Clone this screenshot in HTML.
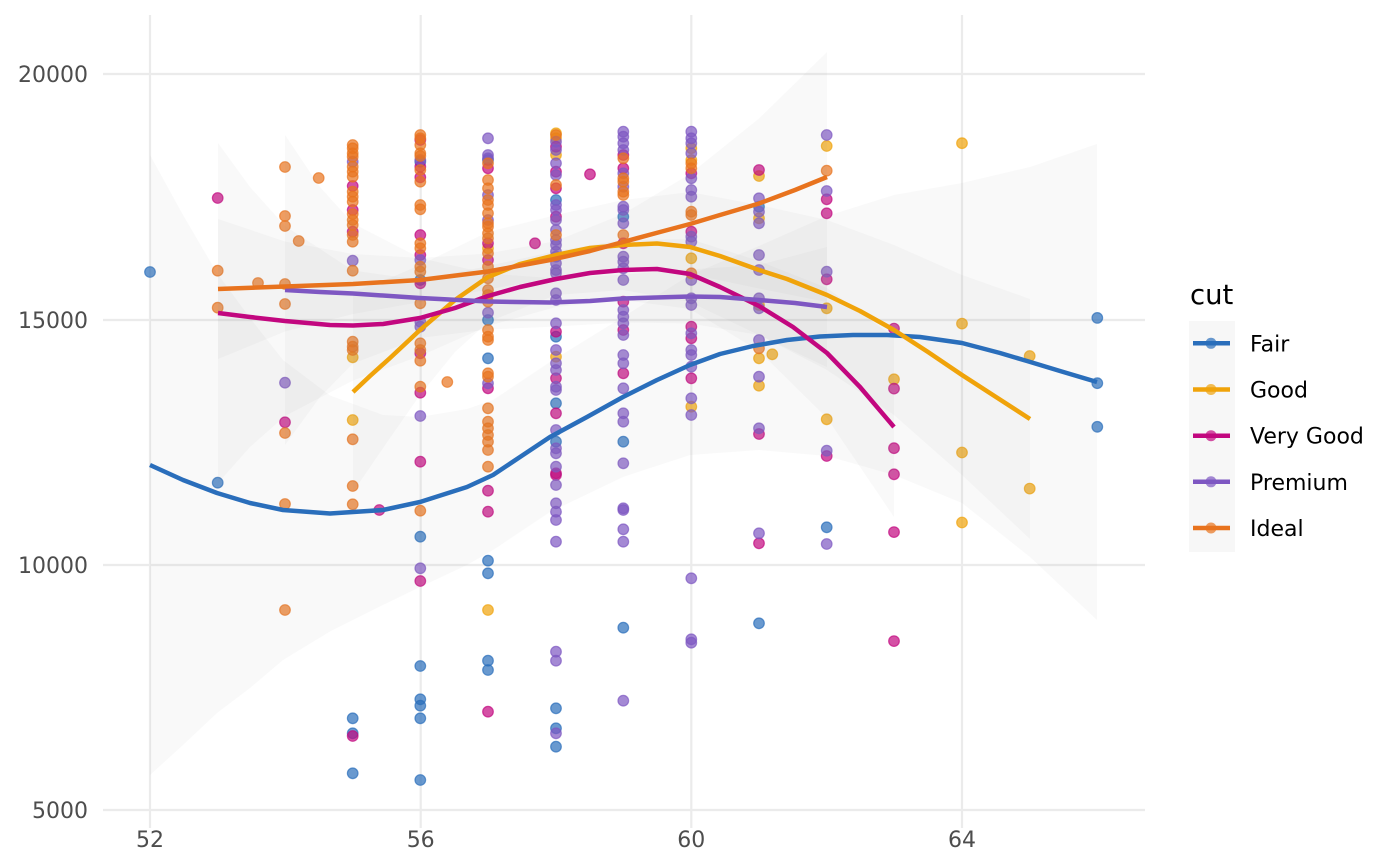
<!DOCTYPE html>
<html><head><meta charset="utf-8"><style>html,body{margin:0;padding:0;background:#fff;}svg{display:block;}text{font-family:"DejaVu Sans","Liberation Sans",sans-serif;}</style></head><body>
<svg width="1400" height="866" viewBox="0 0 1400 866" xmlns="http://www.w3.org/2000/svg">
<rect width="1400" height="866" fill="#fff"/>
<g stroke="#ebebeb" stroke-width="2.2">
<line x1="103" y1="74" x2="1145" y2="74"/><line x1="103" y1="320" x2="1145" y2="320"/><line x1="103" y1="565" x2="1145" y2="565"/><line x1="103" y1="810" x2="1145" y2="810"/>
<line x1="150" y1="15" x2="150" y2="828"/><line x1="420.7" y1="15" x2="420.7" y2="828"/><line x1="691.3" y1="15" x2="691.3" y2="828"/><line x1="962" y1="15" x2="962" y2="828"/>
</g>
<g font-size="22" fill="#4d4d4d">
<text x="88" y="82" text-anchor="end">20000</text><text x="88" y="328" text-anchor="end">15000</text><text x="88" y="573" text-anchor="end">10000</text><text x="88" y="818" text-anchor="end">5000</text>
<text x="150" y="847" text-anchor="middle">52</text><text x="420.7" y="847" text-anchor="middle">56</text><text x="691.3" y="847" text-anchor="middle">60</text><text x="962" y="847" text-anchor="middle">64</text>
</g>
<g stroke-width="1.2" stroke-opacity="0.7" fill-opacity="0.7">
<g fill="#2a6ebb" stroke="#2a6ebb">
<circle cx="150" cy="272" r="5.3"/><circle cx="217.7" cy="482.7" r="5.3"/>
<circle cx="352.7" cy="718.3" r="5.3"/><circle cx="352.7" cy="733.3" r="5.3"/><circle cx="352.7" cy="773.3" r="5.3"/>
<circle cx="420.3" cy="161.7" r="5.3"/><circle cx="420.3" cy="280" r="5.3"/><circle cx="420.3" cy="536.7" r="5.3"/><circle cx="420.3" cy="666" r="5.3"/><circle cx="420.3" cy="699.3" r="5.3"/><circle cx="420.3" cy="705.7" r="5.3"/><circle cx="420.3" cy="718.3" r="5.3"/><circle cx="420.3" cy="780" r="5.3"/>
<circle cx="488" cy="160" r="5.3"/><circle cx="488" cy="320" r="5.3"/><circle cx="488" cy="358.3" r="5.3"/><circle cx="488" cy="560.7" r="5.3"/><circle cx="488" cy="573.3" r="5.3"/><circle cx="488" cy="660.7" r="5.3"/><circle cx="488" cy="670" r="5.3"/>
<circle cx="556" cy="200" r="5.3"/><circle cx="556" cy="336.7" r="5.3"/><circle cx="556" cy="403.3" r="5.3"/><circle cx="556" cy="441.7" r="5.3"/><circle cx="556" cy="708.3" r="5.3"/><circle cx="556" cy="728.3" r="5.3"/><circle cx="556" cy="746.7" r="5.3"/>
<circle cx="623.3" cy="216.7" r="5.3"/><circle cx="623.3" cy="441.7" r="5.3"/><circle cx="623.3" cy="627.7" r="5.3"/>
<circle cx="759" cy="206.7" r="5.3"/><circle cx="759" cy="623.3" r="5.3"/>
<circle cx="826.7" cy="527.3" r="5.3"/>
<circle cx="1097.3" cy="317.9" r="5.3"/><circle cx="1097.3" cy="383.2" r="5.3"/><circle cx="1097.3" cy="426.8" r="5.3"/>
</g>
<g fill="#f0a30a" stroke="#f0a30a">
<circle cx="352.7" cy="357.3" r="5.3"/><circle cx="352.7" cy="420" r="5.3"/>
<circle cx="488" cy="248.3" r="5.3"/><circle cx="488" cy="610" r="5.3"/>
<circle cx="556" cy="133.3" r="5.3"/><circle cx="556" cy="138.3" r="5.3"/><circle cx="556" cy="155" r="5.3"/><circle cx="556" cy="356.7" r="5.3"/>
<circle cx="691.3" cy="148.3" r="5.3"/><circle cx="691.3" cy="160" r="5.3"/><circle cx="691.3" cy="258.3" r="5.3"/><circle cx="691.3" cy="406.7" r="5.3"/>
<circle cx="759" cy="176" r="5.3"/><circle cx="759" cy="218.3" r="5.3"/><circle cx="759" cy="305" r="5.3"/><circle cx="759" cy="358.3" r="5.3"/><circle cx="759" cy="385.7" r="5.3"/>
<circle cx="772.3" cy="354.3" r="5.3"/>
<circle cx="826.7" cy="146" r="5.3"/><circle cx="826.7" cy="308.3" r="5.3"/><circle cx="826.7" cy="419.3" r="5.3"/>
<circle cx="894" cy="379.3" r="5.3"/>
<circle cx="962" cy="143.2" r="5.3"/><circle cx="962" cy="323.6" r="5.3"/><circle cx="962" cy="452.5" r="5.3"/><circle cx="962" cy="522.5" r="5.3"/>
<circle cx="1029.7" cy="356" r="5.3"/><circle cx="1029.7" cy="488.6" r="5.3"/>
</g>
<g fill="#c2077f" stroke="#c2077f">
<circle cx="217.7" cy="198" r="5.3"/><circle cx="285" cy="422.3" r="5.3"/>
<circle cx="352.7" cy="186" r="5.3"/><circle cx="352.7" cy="210" r="5.3"/><circle cx="352.7" cy="231.7" r="5.3"/><circle cx="352.7" cy="736" r="5.3"/>
<circle cx="379.3" cy="510" r="5.3"/>
<circle cx="420.3" cy="140" r="5.3"/><circle cx="420.3" cy="166.7" r="5.3"/><circle cx="420.3" cy="177.3" r="5.3"/><circle cx="420.3" cy="235" r="5.3"/><circle cx="420.3" cy="255" r="5.3"/><circle cx="420.3" cy="283.3" r="5.3"/><circle cx="420.3" cy="353.3" r="5.3"/><circle cx="420.3" cy="392.7" r="5.3"/><circle cx="420.3" cy="461.7" r="5.3"/><circle cx="420.3" cy="581" r="5.3"/>
<circle cx="488" cy="168.3" r="5.3"/><circle cx="488" cy="243.3" r="5.3"/><circle cx="488" cy="260" r="5.3"/><circle cx="488" cy="388.3" r="5.3"/><circle cx="488" cy="490.7" r="5.3"/><circle cx="488" cy="511.7" r="5.3"/><circle cx="488" cy="711.7" r="5.3"/>
<circle cx="535" cy="243.3" r="5.3"/>
<circle cx="556" cy="146.7" r="5.3"/><circle cx="556" cy="171.7" r="5.3"/><circle cx="556" cy="188.3" r="5.3"/><circle cx="556" cy="216.7" r="5.3"/><circle cx="556" cy="331.7" r="5.3"/><circle cx="556" cy="378.3" r="5.3"/><circle cx="556" cy="413.3" r="5.3"/><circle cx="556" cy="473.3" r="5.3"/><circle cx="556" cy="475" r="5.3"/>
<circle cx="590" cy="174.3" r="5.3"/>
<circle cx="623.3" cy="155" r="5.3"/><circle cx="623.3" cy="168.3" r="5.3"/><circle cx="623.3" cy="243.3" r="5.3"/><circle cx="623.3" cy="301.7" r="5.3"/><circle cx="623.3" cy="330" r="5.3"/><circle cx="623.3" cy="373.3" r="5.3"/>
<circle cx="691.3" cy="173.3" r="5.3"/><circle cx="691.3" cy="231.7" r="5.3"/><circle cx="691.3" cy="326.7" r="5.3"/><circle cx="691.3" cy="338.3" r="5.3"/><circle cx="691.3" cy="378.3" r="5.3"/>
<circle cx="759" cy="170" r="5.3"/><circle cx="759" cy="434" r="5.3"/><circle cx="759" cy="543.3" r="5.3"/>
<circle cx="826.7" cy="199.3" r="5.3"/><circle cx="826.7" cy="213.3" r="5.3"/><circle cx="826.7" cy="279.3" r="5.3"/><circle cx="826.7" cy="456" r="5.3"/>
<circle cx="894" cy="328.6" r="5.3"/><circle cx="894" cy="388.6" r="5.3"/><circle cx="894" cy="448.2" r="5.3"/><circle cx="894" cy="474.3" r="5.3"/><circle cx="894" cy="532.1" r="5.3"/><circle cx="894" cy="641.1" r="5.3"/>
</g>
<g fill="#7e57c2" stroke="#7e57c2">
<circle cx="285" cy="382.7" r="5.3"/>
<circle cx="352.7" cy="161.7" r="5.3"/><circle cx="352.7" cy="260.7" r="5.3"/>
<circle cx="420.3" cy="160" r="5.3"/><circle cx="420.3" cy="260" r="5.3"/><circle cx="420.3" cy="321.7" r="5.3"/><circle cx="420.3" cy="326.7" r="5.3"/><circle cx="420.3" cy="416" r="5.3"/><circle cx="420.3" cy="568.3" r="5.3"/>
<circle cx="488" cy="138.3" r="5.3"/><circle cx="488" cy="155" r="5.3"/><circle cx="488" cy="158.3" r="5.3"/><circle cx="488" cy="195" r="5.3"/><circle cx="488" cy="220" r="5.3"/><circle cx="488" cy="312.7" r="5.3"/><circle cx="488" cy="383.3" r="5.3"/>
<circle cx="556" cy="141.7" r="5.3"/><circle cx="556" cy="150" r="5.3"/><circle cx="556" cy="163.3" r="5.3"/><circle cx="556" cy="175" r="5.3"/><circle cx="556" cy="205" r="5.3"/><circle cx="556" cy="210" r="5.3"/><circle cx="556" cy="220" r="5.3"/><circle cx="556" cy="230" r="5.3"/><circle cx="556" cy="240" r="5.3"/><circle cx="556" cy="245" r="5.3"/><circle cx="556" cy="251.7" r="5.3"/><circle cx="556" cy="256.7" r="5.3"/><circle cx="556" cy="263.3" r="5.3"/><circle cx="556" cy="270" r="5.3"/><circle cx="556" cy="273.3" r="5.3"/><circle cx="556" cy="293.3" r="5.3"/><circle cx="556" cy="300" r="5.3"/><circle cx="556" cy="323.3" r="5.3"/><circle cx="556" cy="350" r="5.3"/><circle cx="556" cy="363.3" r="5.3"/><circle cx="556" cy="370" r="5.3"/><circle cx="556" cy="386.7" r="5.3"/><circle cx="556" cy="390" r="5.3"/><circle cx="556" cy="430" r="5.3"/><circle cx="556" cy="448.3" r="5.3"/><circle cx="556" cy="453.3" r="5.3"/><circle cx="556" cy="466.7" r="5.3"/><circle cx="556" cy="485" r="5.3"/><circle cx="556" cy="503.3" r="5.3"/><circle cx="556" cy="511.7" r="5.3"/><circle cx="556" cy="520" r="5.3"/><circle cx="556" cy="541.7" r="5.3"/><circle cx="556" cy="651.7" r="5.3"/><circle cx="556" cy="660.7" r="5.3"/><circle cx="556" cy="733.3" r="5.3"/>
<circle cx="623.3" cy="131.7" r="5.3"/><circle cx="623.3" cy="136.7" r="5.3"/><circle cx="623.3" cy="143.3" r="5.3"/><circle cx="623.3" cy="150" r="5.3"/><circle cx="623.3" cy="173.3" r="5.3"/><circle cx="623.3" cy="186.7" r="5.3"/><circle cx="623.3" cy="206.7" r="5.3"/><circle cx="623.3" cy="210" r="5.3"/><circle cx="623.3" cy="223.3" r="5.3"/><circle cx="623.3" cy="256.7" r="5.3"/><circle cx="623.3" cy="261.7" r="5.3"/><circle cx="623.3" cy="268.3" r="5.3"/><circle cx="623.3" cy="280" r="5.3"/><circle cx="623.3" cy="310" r="5.3"/><circle cx="623.3" cy="316.7" r="5.3"/><circle cx="623.3" cy="323.3" r="5.3"/><circle cx="623.3" cy="335" r="5.3"/><circle cx="623.3" cy="355" r="5.3"/><circle cx="623.3" cy="363.3" r="5.3"/><circle cx="623.3" cy="388.3" r="5.3"/><circle cx="623.3" cy="413.3" r="5.3"/><circle cx="623.3" cy="421.7" r="5.3"/><circle cx="623.3" cy="463.3" r="5.3"/><circle cx="623.3" cy="508.3" r="5.3"/><circle cx="623.3" cy="510" r="5.3"/><circle cx="623.3" cy="529.3" r="5.3"/><circle cx="623.3" cy="541.7" r="5.3"/><circle cx="623.3" cy="700.7" r="5.3"/>
<circle cx="691.3" cy="131.7" r="5.3"/><circle cx="691.3" cy="138.3" r="5.3"/><circle cx="691.3" cy="143.3" r="5.3"/><circle cx="691.3" cy="153.3" r="5.3"/><circle cx="691.3" cy="178.3" r="5.3"/><circle cx="691.3" cy="190" r="5.3"/><circle cx="691.3" cy="196.7" r="5.3"/><circle cx="691.3" cy="236.7" r="5.3"/><circle cx="691.3" cy="241.7" r="5.3"/><circle cx="691.3" cy="280" r="5.3"/><circle cx="691.3" cy="298.3" r="5.3"/><circle cx="691.3" cy="305" r="5.3"/><circle cx="691.3" cy="333.3" r="5.3"/><circle cx="691.3" cy="350" r="5.3"/><circle cx="691.3" cy="355" r="5.3"/><circle cx="691.3" cy="366.7" r="5.3"/><circle cx="691.3" cy="398.3" r="5.3"/><circle cx="691.3" cy="415" r="5.3"/><circle cx="691.3" cy="578.3" r="5.3"/><circle cx="691.3" cy="639.3" r="5.3"/><circle cx="691.3" cy="642.7" r="5.3"/>
<circle cx="759" cy="198.3" r="5.3"/><circle cx="759" cy="211.7" r="5.3"/><circle cx="759" cy="223.3" r="5.3"/><circle cx="759" cy="255" r="5.3"/><circle cx="759" cy="270" r="5.3"/><circle cx="759" cy="298.3" r="5.3"/><circle cx="759" cy="308.3" r="5.3"/><circle cx="759" cy="340" r="5.3"/><circle cx="759" cy="376.7" r="5.3"/><circle cx="759" cy="428.3" r="5.3"/><circle cx="759" cy="533.3" r="5.3"/>
<circle cx="826.7" cy="135" r="5.3"/><circle cx="826.7" cy="191" r="5.3"/><circle cx="826.7" cy="271.7" r="5.3"/><circle cx="826.7" cy="450.7" r="5.3"/><circle cx="826.7" cy="544" r="5.3"/>
</g>
<g fill="#e8731e" stroke="#e8731e">
<circle cx="217.7" cy="270.7" r="5.3"/><circle cx="217.7" cy="307.7" r="5.3"/><circle cx="258" cy="283" r="5.3"/>
<circle cx="285" cy="167" r="5.3"/><circle cx="285" cy="216" r="5.3"/><circle cx="285" cy="226" r="5.3"/><circle cx="285" cy="284" r="5.3"/><circle cx="285" cy="304" r="5.3"/><circle cx="285" cy="433" r="5.3"/><circle cx="285" cy="504" r="5.3"/><circle cx="285" cy="610" r="5.3"/>
<circle cx="298.7" cy="241" r="5.3"/><circle cx="318.7" cy="178" r="5.3"/>
<circle cx="352.7" cy="145" r="5.3"/><circle cx="352.7" cy="148.3" r="5.3"/><circle cx="352.7" cy="153.3" r="5.3"/><circle cx="352.7" cy="156.7" r="5.3"/><circle cx="352.7" cy="166.7" r="5.3"/><circle cx="352.7" cy="171.7" r="5.3"/><circle cx="352.7" cy="176.7" r="5.3"/><circle cx="352.7" cy="191.7" r="5.3"/><circle cx="352.7" cy="196.7" r="5.3"/><circle cx="352.7" cy="201.7" r="5.3"/><circle cx="352.7" cy="214" r="5.3"/><circle cx="352.7" cy="220" r="5.3"/><circle cx="352.7" cy="225" r="5.3"/><circle cx="352.7" cy="235" r="5.3"/><circle cx="352.7" cy="241.7" r="5.3"/><circle cx="352.7" cy="270.7" r="5.3"/><circle cx="352.7" cy="341.7" r="5.3"/><circle cx="352.7" cy="346.7" r="5.3"/><circle cx="352.7" cy="350" r="5.3"/><circle cx="352.7" cy="439.3" r="5.3"/><circle cx="352.7" cy="486" r="5.3"/><circle cx="352.7" cy="504.3" r="5.3"/>
<circle cx="420.3" cy="135" r="5.3"/><circle cx="420.3" cy="138.3" r="5.3"/><circle cx="420.3" cy="145" r="5.3"/><circle cx="420.3" cy="153.3" r="5.3"/><circle cx="420.3" cy="156" r="5.3"/><circle cx="420.3" cy="170" r="5.3"/><circle cx="420.3" cy="181.7" r="5.3"/><circle cx="420.3" cy="205" r="5.3"/><circle cx="420.3" cy="209.3" r="5.3"/><circle cx="420.3" cy="243.3" r="5.3"/><circle cx="420.3" cy="248.3" r="5.3"/><circle cx="420.3" cy="266.7" r="5.3"/><circle cx="420.3" cy="271.7" r="5.3"/><circle cx="420.3" cy="303.3" r="5.3"/><circle cx="420.3" cy="343.3" r="5.3"/><circle cx="420.3" cy="350" r="5.3"/><circle cx="420.3" cy="360.7" r="5.3"/><circle cx="420.3" cy="386.7" r="5.3"/><circle cx="420.3" cy="510.7" r="5.3"/>
<circle cx="447.3" cy="382" r="5.3"/>
<circle cx="488" cy="163.3" r="5.3"/><circle cx="488" cy="180" r="5.3"/><circle cx="488" cy="188.3" r="5.3"/><circle cx="488" cy="200" r="5.3"/><circle cx="488" cy="205" r="5.3"/><circle cx="488" cy="213.3" r="5.3"/><circle cx="488" cy="223.3" r="5.3"/><circle cx="488" cy="226.7" r="5.3"/><circle cx="488" cy="233.3" r="5.3"/><circle cx="488" cy="238.3" r="5.3"/><circle cx="488" cy="253.3" r="5.3"/><circle cx="488" cy="266.7" r="5.3"/><circle cx="488" cy="278.3" r="5.3"/><circle cx="488" cy="290" r="5.3"/><circle cx="488" cy="295" r="5.3"/><circle cx="488" cy="301.7" r="5.3"/><circle cx="488" cy="330" r="5.3"/><circle cx="488" cy="336.7" r="5.3"/><circle cx="488" cy="340" r="5.3"/><circle cx="488" cy="373.3" r="5.3"/><circle cx="488" cy="376.7" r="5.3"/><circle cx="488" cy="408.3" r="5.3"/><circle cx="488" cy="421.7" r="5.3"/><circle cx="488" cy="428.3" r="5.3"/><circle cx="488" cy="435" r="5.3"/><circle cx="488" cy="441.7" r="5.3"/><circle cx="488" cy="450" r="5.3"/><circle cx="488" cy="466.7" r="5.3"/>
<circle cx="556" cy="135" r="5.3"/><circle cx="556" cy="185" r="5.3"/><circle cx="556" cy="235" r="5.3"/>
<circle cx="623.3" cy="158.3" r="5.3"/><circle cx="623.3" cy="178.3" r="5.3"/><circle cx="623.3" cy="181.7" r="5.3"/><circle cx="623.3" cy="191.7" r="5.3"/><circle cx="623.3" cy="195" r="5.3"/><circle cx="623.3" cy="235" r="5.3"/>
<circle cx="691.3" cy="163.3" r="5.3"/><circle cx="691.3" cy="168.3" r="5.3"/><circle cx="691.3" cy="211.7" r="5.3"/><circle cx="691.3" cy="215" r="5.3"/><circle cx="691.3" cy="273.3" r="5.3"/>
<circle cx="759" cy="348.3" r="5.3"/><circle cx="826.7" cy="170.7" r="5.3"/>
</g>
</g>
<g fill="#999" fill-opacity="0.055">
<polygon points="150,155 183,215 217,273 250,318 283,360 330,395.5 383,415 420,417 467,409 493,400 550,362 623,317 690,275 759,246 827,216 894,195 962,183 1030,167 1097,144 1097,620 1030,557 962,503 894,475 827,456 759,450 690,455 623,477 550,512 493,550 467,565 420,587 383,605 330,631.5 283,660 250,688 217,713 183,745 150,775"/>
<polygon points="353,292 390,278 420,265 455,248 488,232 556,215 623,200 690,192 759,205 827,220 894,245 962,275 1030,299 1030,539 962,475 894,415 827,370 759,335 690,302 623,290 556,295 488,322 455,352 420,395 390,438 353,492"/>
<polygon points="218,143 250,187 285,226 353,270.5 420,280 488,266 556,251 623,240 690,239 759,261 827,288 894,337 894,517 827,418 759,351 690,309 623,300 556,307 488,326 420,356 353,380.5 285,416 250,447 218,483"/>
<polygon points="285,135 320,187 353,223.5 420,258 488,273.5 556,278.5 623,274.5 690,269.5 759,265 827,247 827,367 759,335 690,323.5 623,322.5 556,326.5 488,329.5 420,338 353,363.5 320,397 285,445"/>
<polygon points="218,219 285,241.5 353,254 420,258 488,253.5 556,241 623,214 690,174 759,118.5 827,52 827,302 759,288.5 690,274 623,270 556,277 488,289.5 420,302 353,314 285,331.5 218,359"/>
</g>
<g fill="none" stroke-width="4.5" stroke-linejoin="round">
<polyline stroke="#2a6ebb" points="150,465 183,480 217,493 250,503 283,510 330,513.5 383,510 420,502 467,487 493,475 520,457 550,437 587,417 623,397 657,380 690,365 720,354 753,346 787,340 820,336.5 853,335 887,335 920,337 962,343 1000,353 1027,361 1060,371 1097,382"/>
<polyline stroke="#f0a30a" points="353,392 370,376 390,358 420,330 455,300 488,277 520,264 556,255 590,248 623,245 657,243.5 690,247 720,256 759,270 787,279 827,295 860,311 894,330 928,352 962,375 996,397 1030,419"/>
<polyline stroke="#c2077f" points="218,313 250,317 285,321 330,325 353,325.5 383,324 420,318 455,308 488,296 520,287 556,279 590,273 623,270 657,269 690,274 720,287 759,306 793,327 827,353 860,387 894,427"/>
<polyline stroke="#7e57c2" points="285,290 320,292 353,293.5 420,298 488,301.5 550,302.5 590,301 623,298.5 690,296.5 720,297 759,300 795,303 827,307"/>
<polyline stroke="#e8731e" points="218,289 285,286.5 353,284 420,280 488,271.5 550,260 590,251 623,242 660,232 690,224 720,215 759,203.5 795,190 827,177"/>
</g>
<text x="1190" y="304" font-size="27.5" fill="#000">cut</text>
<rect x="1189" y="321" width="46" height="231" fill="#f7f7f7"/>
<g stroke-width="4.5">
<line x1="1193" y1="343.3" x2="1230" y2="343.3" stroke="#2a6ebb"/>
<line x1="1193" y1="389.5" x2="1230" y2="389.5" stroke="#f0a30a"/>
<line x1="1193" y1="435.7" x2="1230" y2="435.7" stroke="#c2077f"/>
<line x1="1193" y1="481.8" x2="1230" y2="481.8" stroke="#7e57c2"/>
<line x1="1193" y1="528" x2="1230" y2="528" stroke="#e8731e"/>
</g>
<g fill-opacity="0.7">
<circle cx="1211" cy="343.3" r="5.5" fill="#2a6ebb"/><circle cx="1211" cy="389.5" r="5.5" fill="#f0a30a"/><circle cx="1211" cy="435.7" r="5.5" fill="#c2077f"/><circle cx="1211" cy="481.8" r="5.5" fill="#7e57c2"/><circle cx="1211" cy="528" r="5.5" fill="#e8731e"/>
</g>
<g font-size="22" fill="#000">
<text x="1250" y="351.3">Fair</text><text x="1250" y="397.5">Good</text><text x="1250" y="443.7">Very Good</text><text x="1250" y="489.8">Premium</text><text x="1250" y="536">Ideal</text>
</g>
</svg>
</body></html>
